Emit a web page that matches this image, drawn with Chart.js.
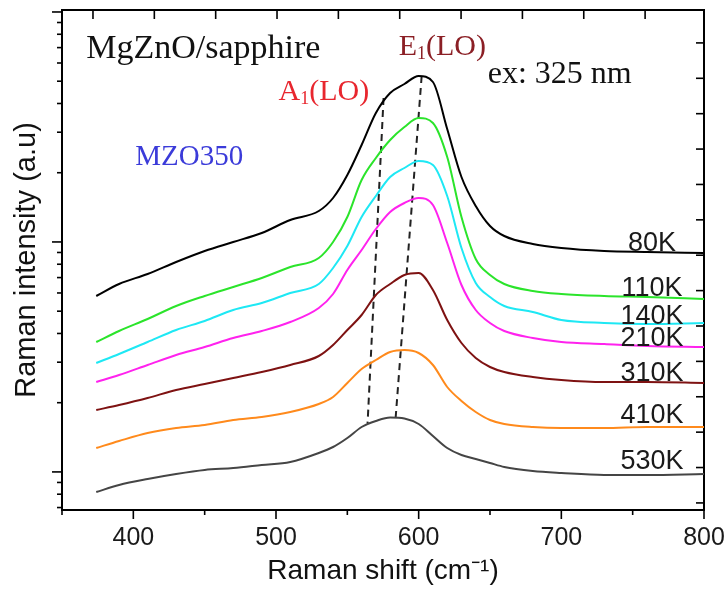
<!DOCTYPE html>
<html><head><meta charset="utf-8">
<script src="https://cdn.jsdelivr.net/npm/chart.js@4.4.1/dist/chart.umd.min.js"></script>
<style>html,body{margin:0;padding:0;background:#fff}#wrap{width:724px;height:590px}</style>
</head><body><div id="wrap"><canvas id="c" width="724" height="590"></canvas></div>
<script>
// ---- data (Raman shift in cm^-1, intensity in arbitrary offset units) ----
const ramanShift = [374,390,410,430,450,470,490,510,530,540,550,560,570,580,590,600,610,620,630,640,650,660,680,700,730,760,800];
const k80  = [42.8,45.2,47.2,49.6,51.8,53.6,55.4,58.0,59.8,62.4,67.0,73.0,79.4,83.4,85.2,86.8,85.6,76.2,66.6,60.8,56.8,54.8,53.2,52.4,51.8,51.6,51.4];
const k110 = [33.6,35.8,38.2,40.8,42.8,44.6,46.4,48.6,50.4,53.6,58.6,66.0,70.4,74.0,76.6,78.4,77.4,70.6,58.6,50.2,47.0,45.2,43.8,43.2,42.8,42.6,42.2];
const k140 = [29.4,31.2,33.6,36.0,37.8,40.0,41.4,43.4,45.2,48.4,52.8,58.6,62.8,66.6,68.4,69.8,69.0,62.8,52.4,45.4,42.6,40.8,39.6,38.0,37.4,37.2,37.4];
const k210 = [25.6,27.0,29.0,31.0,32.6,34.4,35.8,37.6,40.4,43.2,48.0,52.0,56.2,59.6,61.4,62.4,61.0,53.4,45.0,40.0,37.4,35.8,34.4,33.6,33.2,32.8,32.6];
const k310 = [20.0,21.0,22.4,24.0,25.2,26.4,27.6,29.0,30.8,33.0,36.0,39.0,43.0,45.2,47.0,47.4,44.0,38.0,33.4,30.4,28.6,27.6,26.6,26.0,25.6,25.6,25.4];
const k410 = [12.4,13.8,15.4,16.4,17.0,18.0,18.6,19.6,21.2,22.6,25.4,28.2,30.0,31.6,32.0,31.4,29.0,24.6,21.8,19.6,18.0,17.2,16.6,16.4,16.4,16.6,16.6];
const k530 = [3.6,5.0,6.2,7.2,8.0,8.4,9.0,9.6,11.4,12.6,14.4,16.6,17.8,18.5,18.3,17.2,14.8,12.4,11.0,10.2,9.4,8.6,7.8,7.4,7.0,7.0,7.2];
const seriesNames = ['80K','110K','140K','210K','310K','410K','530K'];
const seriesValues = [k80,k110,k140,k210,k310,k410,k530];
// dashed guide lines (A1(LO) and E1(LO) peak shift)
const a1GuideX = [575.4,564.2], a1GuideY = [82.4,17.4];
const e1GuideX = [602.1,583.9], e1GuideY = [86.8,18.6];
// ticks
const xTickValues = [350,400,450,500,550,600,650,700,750,800];
const xTickLabels = ['','400','','500','','600','','700','','800'];
const logTickValues = [0.7,0.8,0.9,1,2,3,4,5,6,7,8,9,10,20,30,40,50,60,70,80,90,100];
const rightTickValues = [0,1,2,3,4,5,6,7,8,9,10,11,12,13];
const topTickValues = [0,1,2,3,4,5,6,7,8,9];

// ---- styles ----
const seriesColors = ['#000000','#2be42b','#1ee8f4','#ff22ee','#7e1212','#ff8a1c','#454545'];
const SANS = '"Liberation Sans", Arial, sans-serif';
const SERIF = '"Liberation Serif", "Times New Roman", serif';

const datasets = seriesValues.map((vals,i)=>({
  label: seriesNames[i],
  data: ramanShift.map((x,j)=>({x, y: vals[j]})),
  borderColor: seriesColors[i], borderWidth: 2, pointRadius: 0,
  cubicInterpolationMode: 'monotone',
  fill: false, xAxisID: 'x', yAxisID: 'y'
}));
datasets.push({label:'A1 guide', data: a1GuideX.map((x,j)=>({x, y:a1GuideY[j]})), borderColor:'#222', borderWidth:2, borderDash:[7,5], pointRadius:0, xAxisID:'x', yAxisID:'y'});
datasets.push({label:'E1 guide', data: e1GuideX.map((x,j)=>({x, y:e1GuideY[j]})), borderColor:'#222', borderWidth:2, borderDash:[7,5], pointRadius:0, xAxisID:'x', yAxisID:'y'});

// annotation layout (data coordinates, y = vertical middle of capitals)
const tempLabelLayout = {x: 763.5, y: [53.8,44.8,39.2,34.7,27.8,19.3,10.2], size: 27, color: '#1a1a1a'};
const annotations = [
  {main:'MgZnO/sapphire', x:367, y:92.7, size:34, color:'#111111'},
  {main:'A', sub:'1', rest:'(LO)', x:501.8, y:84, size:30, color:'#e8262e'},
  {main:'E', sub:'1', rest:'(LO)', x:586, y:93, size:30, color:'#8b1f25'},
  {main:'ex: 325 nm', x:648.4, y:87.5, size:32, color:'#111111'},
  {main:'MZO350', x:401.4, y:71, size:29, color:'#3b3bd9'}
];

const tickMarks = {
  id: 'tickMarks',
  afterDraw(chart){
    const ctx = chart.ctx, s = chart.scales;
    ctx.save();
    ctx.strokeStyle = '#000'; ctx.lineWidth = 1.6;
    const line = (x1,y1,x2,y2)=>{ctx.beginPath();ctx.moveTo(x1,y1);ctx.lineTo(x2,y2);ctx.stroke();};
    s.x.ticks.forEach(t=>{const p=s.x.getPixelForValue(t.value); const L=(t.value%100===0)?9:5; line(p,s.x.top,p,s.x.top+L);});
    s.xt.ticks.forEach(t=>{const p=s.xt.getPixelForValue(t.value); line(p,s.xt.bottom,p,s.xt.bottom+9);});
    s.yl.ticks.forEach(t=>{const p=s.yl.getPixelForValue(t.value); const lg=Math.log10(t.value); const major=Math.abs(lg-Math.round(lg))<1e-9; line(s.yl.right,p,s.yl.right-(major?10:5),p);});
    s.yr.ticks.forEach(t=>{const p=s.yr.getPixelForValue(t.value); line(s.yr.left,p,s.yr.left-8,p);});
    ctx.restore();
  }
};

const texts = {
  id: 'texts',
  afterDatasetsDraw(chart){
    const ctx = chart.ctx, sx = chart.scales.x, sy = chart.scales.y;
    ctx.save();
    ctx.textBaseline = 'alphabetic';
    annotations.forEach(a=>{
      let px = sx.getPixelForValue(a.x);
      const base = sy.getPixelForValue(a.y) + 0.34*a.size;
      ctx.fillStyle = a.color; ctx.textAlign = 'left';
      ctx.font = a.size + 'px ' + SERIF;
      ctx.fillText(a.main, px, base);
      px += ctx.measureText(a.main).width;
      if (a.sub){
        const ss = Math.round(a.size*0.6);
        ctx.font = ss + 'px ' + SERIF;
        ctx.fillText(a.sub, px, base + a.size*0.12);
        px += ctx.measureText(a.sub).width;
        ctx.font = a.size + 'px ' + SERIF;
        ctx.fillText(a.rest, px, base);
      }
    });
    ctx.font = tempLabelLayout.size + 'px ' + SANS;
    ctx.fillStyle = tempLabelLayout.color; ctx.textAlign = 'center';
    seriesNames.forEach((n,i)=>{
      ctx.fillText(n, sx.getPixelForValue(tempLabelLayout.x), sy.getPixelForValue(tempLabelLayout.y[i]) + 0.36*tempLabelLayout.size);
    });
    ctx.restore();
  }
};

const borderOpt = {display:true, color:'#000', width:2};
const noGrid = {display:false, drawTicks:false};

new Chart(document.getElementById('c'), {
  type: 'line',
  data: { datasets },
  options: {
    responsive: false, animation: false, devicePixelRatio: 1,
    layout: {padding: 0},
    plugins: {legend:{display:false}, tooltip:{enabled:false}},
    scales: {
      x: {type:'linear', position:'bottom', min:350, max:800,
          afterBuildTicks: sc=>{sc.ticks = xTickValues.map(v=>({value:v}));},
          ticks:{autoSkip:false, maxRotation:0, padding:13, color:'#1a1a1a', font:{family:SANS, size:25},
                 callback:(v,i)=>xTickLabels[i]},
          grid: noGrid, border: borderOpt,
          title:{display:true, text:'Raman shift (cm\u207B\u00B9)', color:'#111', font:{family:SANS, size:28}, padding:{top:0,bottom:2}},
          afterFit: sc=>{sc.height = 80; sc.paddingLeft = 0; sc.paddingRight = 0;}},
      xt: {type:'linear', position:'top', min:-0.505, max:9.96,
          afterBuildTicks: sc=>{sc.ticks = topTickValues.map(v=>({value:v}));},
          ticks:{display:false}, grid: noGrid, border: borderOpt,
          afterFit: sc=>{sc.height = 10; sc.paddingLeft = 0; sc.paddingRight = 0;}},
      y: {type:'linear', display:false, min:0, max:100},
      yl: {type:'logarithmic', position:'left', min:0.683, max:102,
          afterBuildTicks: sc=>{sc.ticks = logTickValues.map(v=>({value:v}));},
          ticks:{display:false}, grid: noGrid, border: borderOpt,
          title:{display:true, text:'Raman intensity (a.u)', color:'#111', font:{family:SANS, size:29}, padding:{top:10,bottom:0}},
          afterFit: sc=>{sc.width = 62; sc.paddingTop = 0; sc.paddingBottom = 0;}},
      yr: {type:'linear', position:'right', min:-0.2, max:13.93,
          afterBuildTicks: sc=>{sc.ticks = rightTickValues.map(v=>({value:v}));},
          ticks:{display:false}, grid: noGrid, border: borderOpt,
          afterFit: sc=>{sc.width = 20; sc.paddingTop = 0; sc.paddingBottom = 0;}}
    }
  },
  plugins: [tickMarks, texts]
});
</script>
</body></html>
